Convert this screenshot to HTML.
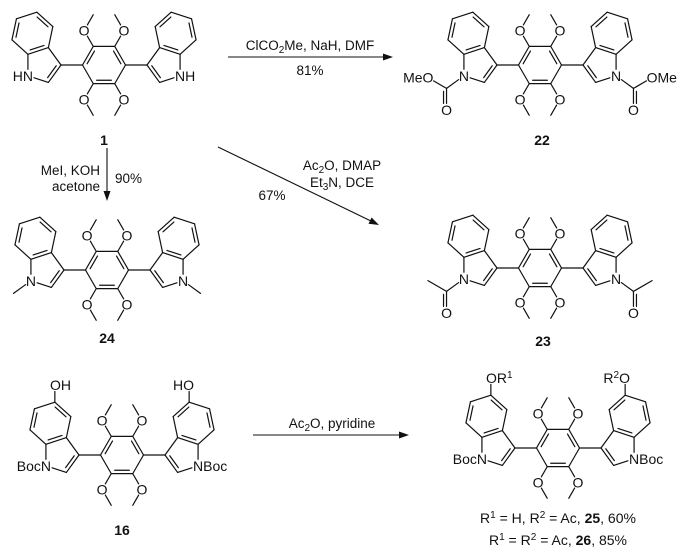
<!DOCTYPE html>
<html><head><meta charset="utf-8"><style>
html,body{margin:0;padding:0;background:#fff}
svg{display:block}
text{font-family:"Liberation Sans",Arial,sans-serif;font-size:14px;fill:#111}
.a{text-anchor:middle}
.e{text-anchor:end}
.s{text-anchor:start}
.lab{font-weight:bold;text-anchor:middle}
.r{font-size:13.5px}
</style></head><body>
<svg id="sv" width="690" height="550" viewBox="0 0 690 550" xmlns="http://www.w3.org/2000/svg">
<g id="bonds" stroke="#111" stroke-width="1.2" fill="none" stroke-linecap="round"></g>
<g stroke="#111" stroke-width="1.1">
<line x1="228" y1="57" x2="386" y2="57"/>
<line x1="107" y1="148" x2="107" y2="194"/>
<line x1="218" y1="147" x2="373" y2="222"/>
<line x1="253" y1="435" x2="402" y2="435"/>
</g>
<g fill="#111">
<polygon points="393,57 383,53.5 383,60.5"/>
<polygon points="107,201 103.5,191 110.5,191"/>
<polygon points="379,225 368.5,223.8 371.6,217.5"/>
<polygon points="409,435 399,431.5 399,438.5"/>
</g>
<text class="r" x="310" y="50" text-anchor="middle">ClCO<tspan font-size="10" dy="3">2</tspan><tspan dy="-3">Me, NaH, DMF</tspan></text>
<text class="r" x="310" y="75" text-anchor="middle">81%</text>
<text class="r" x="100" y="175" text-anchor="end">MeI, KOH</text>
<text class="r" x="100" y="191" text-anchor="end">acetone</text>
<text class="r" x="115" y="183">90%</text>
<text class="r" x="342" y="170" text-anchor="middle">Ac<tspan font-size="10" dy="3">2</tspan><tspan dy="-3">O, DMAP</tspan></text>
<text class="r" x="342" y="187" text-anchor="middle">Et<tspan font-size="10" dy="3">3</tspan><tspan dy="-3">N, DCE</tspan></text>
<text class="r" x="272" y="200" text-anchor="middle">67%</text>
<text class="r" x="332" y="428" text-anchor="middle">Ac<tspan font-size="10" dy="3">2</tspan><tspan dy="-3">O, pyridine</tspan></text>

<g transform="translate(104,65)">
<text class="a" x="-19.9" y="-29.5">O</text><text class="a" x="19.9" y="-29.5">O</text>
<text class="a" x="-19.9" y="39.5">O</text><text class="a" x="19.9" y="39.5">O</text>
<text class="e" x="-71" y="15.8">HN</text><text class="s" x="71" y="15.8">NH</text>
<text class="lab" x="0" y="80">1</text>
</g>
<g transform="translate(540,65)">
<text class="a" x="-19.9" y="-29.5">O</text><text class="a" x="19.9" y="-29.5">O</text>
<text class="a" x="-19.9" y="39.5">O</text><text class="a" x="19.9" y="39.5">O</text>
<text class="a" x="-76.1" y="15.8">N</text><text class="a" x="76.1" y="15.8">N</text>
<text class="a" x="-93.5" y="50">O</text><text class="a" x="93.5" y="50">O</text>
<text class="e" x="-106.6" y="17.6">MeO</text><text class="s" x="106.6" y="17.6">OMe</text>
<text class="lab" x="2" y="80">22</text>
</g>
<g transform="translate(107,270)">
<text class="a" x="-19.9" y="-29.5">O</text><text class="a" x="19.9" y="-29.5">O</text>
<text class="a" x="-19.9" y="39.5">O</text><text class="a" x="19.9" y="39.5">O</text>
<text class="a" x="-76.1" y="15.8">N</text><text class="a" x="76.1" y="15.8">N</text>
<text class="lab" x="0" y="73">24</text>
</g>
<g transform="translate(540,268)">
<text class="a" x="-19.9" y="-29.5">O</text><text class="a" x="19.9" y="-29.5">O</text>
<text class="a" x="-19.9" y="39.5">O</text><text class="a" x="19.9" y="39.5">O</text>
<text class="a" x="-76.1" y="15.8">N</text><text class="a" x="76.1" y="15.8">N</text>
<text class="a" x="-93.5" y="50">O</text><text class="a" x="93.5" y="50">O</text>
<text class="lab" x="3" y="78">23</text>
</g>
<g transform="translate(122,455)">
<text class="a" x="-19.9" y="-29.5">O</text><text class="a" x="19.9" y="-29.5">O</text>
<text class="a" x="-19.9" y="39.5">O</text><text class="a" x="19.9" y="39.5">O</text>
<text class="e" x="-71" y="15.8">BocN</text><text class="s" x="71" y="15.8">NBoc</text>
<text class="s" x="-72" y="-64.8">OH</text><text class="e" x="72" y="-64.8">HO</text>
<text class="lab" x="0" y="80">16</text>
</g>
<g transform="translate(558,448)">
<text class="a" x="-19.9" y="-29.5">O</text><text class="a" x="19.9" y="-29.5">O</text>
<text class="a" x="-19.9" y="39.5">O</text><text class="a" x="19.9" y="39.5">O</text>
<text class="e" x="-71" y="15.8">BocN</text><text class="s" x="71" y="15.8">NBoc</text>
<text class="s" x="-72" y="-64.8">OR<tspan font-size="10" dy="-5">1</tspan></text>
<text class="e" x="72" y="-64.8">R<tspan font-size="10" dy="-5">2</tspan><tspan dy="5">O</tspan></text>
</g>
<text x="558" y="523" text-anchor="middle">R<tspan font-size="10" dy="-5">1</tspan><tspan dy="5"> = H, R</tspan><tspan font-size="10" dy="-5">2</tspan><tspan dy="5"> = Ac, </tspan><tspan font-weight="bold">25</tspan>, 60%</text>
<text x="558" y="545" text-anchor="middle">R<tspan font-size="10" dy="-5">1</tspan><tspan dy="5"> = R</tspan><tspan font-size="10" dy="-5">2</tspan><tspan dy="5"> = Ac, </tspan><tspan font-weight="bold">26</tspan>, 85%</text>
</svg>
<script>
(function(){
var g=document.getElementById('bonds'),L=21.5,NS='http://www.w3.org/2000/svg';
function ln(a,b,sa,sb){sa=sa||0;sb=sb||0;var dx=b[0]-a[0],dy=b[1]-a[1],d=Math.hypot(dx,dy),ux=dx/d,uy=dy/d;
var e=document.createElementNS(NS,'line');e.setAttribute('x1',a[0]+ux*sa);e.setAttribute('y1',a[1]+uy*sa);e.setAttribute('x2',b[0]-ux*sb);e.setAttribute('y2',b[1]-uy*sb);g.appendChild(e);}
function dbl(a,b,c){ln(a,b);var mx=(a[0]+b[0])/2,my=(a[1]+b[1])/2,dx=c[0]-mx,dy=c[1]-my,d=Math.hypot(dx,dy),o=3.4;
var ox=dx/d*o,oy=dy/d*o,t=0.16;
ln([a[0]+(b[0]-a[0])*t+ox,a[1]+(b[1]-a[1])*t+oy],[b[0]+(a[0]-b[0])*t+ox,b[1]+(a[1]-b[1])*t+oy]);}
var I={C3:[0,0],C3a:[-0.587,-0.809],C7a:[-1.539,-0.499],N:[-1.538,0.5],C2:[-0.587,0.81],C4:[-0.38,-1.787],C5:[-1.123,-2.456],C6:[-2.073,-2.147],C7:[-2.282,-1.169],P:[-0.85,0],H:[-1.331,-1.478]};
var S=6.5;
function mol(cx,cy,sub,oh){
 var v=[];for(var k=0;k<6;k++){var a=k*Math.PI/3;v.push([cx+L*Math.cos(a),cy+L*Math.sin(a)]);}
 var c=[cx,cy];
 for(k=0;k<6;k++){var n=(k+1)%6; if(k==5||k==1||k==3)dbl(v[k],v[n],c);else ln(v[k],v[n]);}
 [[4,-1,-1],[5,1,-1],[2,-1,1],[1,1,1]].forEach(function(m){var p=v[m[0]],s=m[1],t=m[2],r=0.85*L;
  var O=[p[0]+s*0.5*r,p[1]+t*0.866*r];ln(p,O,0,S);ln(O,[O[0]-s*0.5*r,O[1]+t*0.866*r],S,0);});
 [-1,1].forEach(function(s){
  var P={};
  for(var key in I){P[key]=[cx+s*2*L+(s<0?I[key][0]*L:-I[key][0]*L),cy+I[key][1]*L];}
  ln(s<0?v[3]:v[0],P.C3);
  ln(P.C3,P.C3a);dbl(P.C3a,P.C7a,P.H);ln(P.C7a,P.N,0,S);ln(P.N,P.C2,S,0);dbl(P.C2,P.C3,P.P);
  ln(P.C3a,P.C4);dbl(P.C4,P.C5,P.H);ln(P.C5,P.C6);dbl(P.C6,P.C7,P.H);ln(P.C7,P.C7a);
  var N=P.N,dx=s*0.809*L,dy=0.588*L;
  if(sub=='Me')ln(N,[N[0]+dx,N[1]+dy],S,0);
  if(sub=='CO2Me'||sub=='Ac'){var C=[N[0]+dx,N[1]+dy];ln(N,C,S,0);
   var O=[C[0],C[1]+L];ln(C,O,0,S);ln([C[0]+s*3,C[1]+3],[O[0]+s*3,O[1]-S]);
   ln(C,[C[0]+s*0.866*L,C[1]-0.5*L],0,sub=='CO2Me'?S:0);}
  if(oh){var C5=P.C5;ln(C5,[C5[0],C5[1]-0.8*L],0,S);}
 });
}
mol(104,65,'H',0);
mol(540,65,'CO2Me',0);
mol(107,270,'Me',0);
mol(540,268,'Ac',0);
mol(122,455,'Boc',1);
mol(558,448,'Boc',1);
})();
</script>
</body></html>
